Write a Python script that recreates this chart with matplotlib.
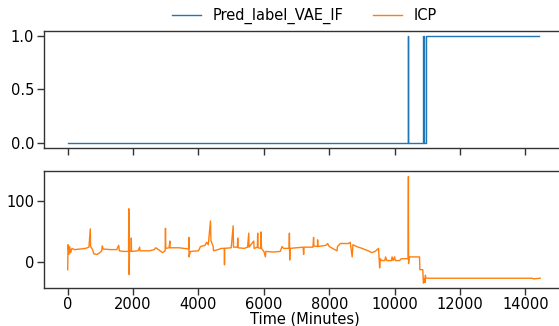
import matplotlib
matplotlib.use("Agg")
import matplotlib.pyplot as plt

# anomaly label (step signal)
label_time = [0, 10400, 10410, 10880, 10890, 10950, 14420]
label_value = [0, 1, 0, 1, 0, 1, 1]

# ICP series, values
icp_time = [0, 10, 40, 60, 90, 130, 200, 400, 550, 650, 690, 700, 760, 800, 900, 980,
            1040, 1060, 1080, 1300, 1500, 1560, 1580, 1700, 1860, 1870, 1880, 1890,
            1940, 1945, 1950, 2150, 2200, 2210, 2500, 2650, 2690, 2750, 2850, 2900,
            2980, 2990, 3000, 3100, 3125, 3130, 3400, 3700, 3705, 3710, 3750, 4000,
            4060, 4200, 4250, 4300, 4366, 4380, 4450, 4460, 4600, 4700, 4790, 4795,
            4800, 5000, 5060, 5070, 5190, 5200, 5210, 5400, 5500, 5537, 5545, 5690,
            5700, 5800, 5810, 5820, 5900, 5914, 5925, 6000, 6046, 6060, 6300, 6500,
            6555, 6600, 6770, 6780, 6790, 6800, 7000, 7200, 7215, 7230, 7500, 7520,
            7530, 7640, 7643, 7650, 7900, 7950, 8000, 8235, 8250, 8340, 8590, 8640,
            8700, 8723, 8840, 9000, 9190, 9300, 9400, 9506, 9540, 9560, 9600, 9700,
            9720, 9760, 9900, 9920, 9950, 10000, 10020, 10150, 10200, 10370, 10410,
            10420, 10425, 10440, 10760, 10770, 10860, 10870, 10880, 10900, 10930,
            10940, 10950, 14200, 14250, 14450]
icp_value = [-13, 28, 12, 25, 15, 22, 20, 21, 22, 24, 54, 25, 20, 13, 12, 15,
             18, 26, 21, 20, 20, 27, 18, 17, 17, 87, -21, 17,
             18, 39, 17, 18, 24, 18, 18, 20, 23, 21, 17, 15,
             18, 55, 22, 23, 34, 23, 23, 21, 40, 8, 17, 18,
             25, 27, 32, 28, 67, 35, 25, 18, 20, 22, 22, -5,
             22, 23, 59, 24, 24, 39, 23, 22, 24, 47, 24, 34,
             22, 24, 47, 23, 22, 49, 22, 17, 8, 17, 16, 17,
             25, 22, 22, 47, 3, 22, 23, 24, 12, 24, 24, 40,
             26, 25, 36, 25, 27, 30, 25, 18, 25, 30, 30, 32,
             8, 28, 25, 22, 18, 15, 17, 22, -10, 5, 2, 2,
             8, 2, 2, 8, 2, 8, 2, 2, 5, 5, 5,
             140, -3, 8, 8, -13, -13, -27, -35, -27, -34,
             -22, -27, -27, -28, -27]

plt.rcParams['font.size'] = 10.5
plt.rcParams['axes.edgecolor'] = '0.2'
plt.rcParams['axes.linewidth'] = 1.0

fig = plt.figure(figsize=(5.59, 3.26), dpi=100)
ax1 = fig.add_axes([0.0787, 0.546, 0.933, 0.359])
ax2 = fig.add_axes([0.0787, 0.1166, 0.933, 0.3589], sharex=ax1)

l1, = ax1.plot(label_time, label_value, drawstyle='steps-post', color='#1f77b4',
               lw=1.0, label='Pred_label_VAE_IF')
l2, = ax2.plot(icp_time, icp_value, color='#ff7f0e', lw=1.0, label='ICP')

ax1.set_yticks([0.0, 0.5, 1.0])
ax2.set_yticks([0, 100])
ax2.set_xticks([0, 2000, 4000, 6000, 8000, 10000, 12000, 14000])
ax2.set_xlim(-725, 15225)
ax2.set_ylim(-43, 149)
plt.setp(ax1.get_xticklabels(), visible=False)

for ax in (ax1, ax2):
    ax.spines['right'].set_visible(False)
    ax.tick_params(length=5, width=1.0, color='0.2', pad=2)
ax2.tick_params(axis='x', pad=1.2)
ax2.set_xlabel('Time (Minutes)', labelpad=-0.3)

fig.legend(handles=[l1, l2], loc='upper center', bbox_to_anchor=(0.545, 1.015),
           ncol=2, frameon=False)

plt.savefig('out.png')
